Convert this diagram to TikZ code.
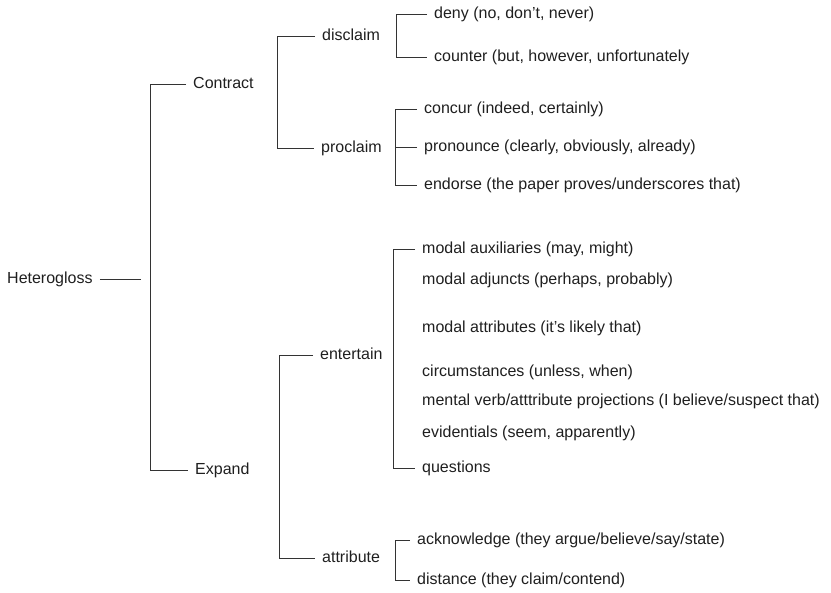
\documentclass[tikz,border=0pt]{standalone}
\usepackage{fontspec}
\setmainfont{Liberation Sans}

\begin{document}
\begin{tikzpicture}[x=1pt,y=-1pt,
  lbl/.style={anchor=west,inner sep=0pt,inner xsep=7pt,text height=11.7pt,text depth=3.3pt,
    text=black!88,font=\fontsize{16}{19}\selectfont},
  branch/.style={draw=black!80,line width=0.9pt}]
  \useasboundingbox (0,0) rectangle (831,593);

  \node at(0,279)[lbl](heterogloss){Heterogloss};
  \coordinate (hgend) at(141,279);

  \node at(186,84)[lbl](contract){Contract};
  \node at(188,470)[lbl](expand){Expand};

  \node at(315,36)[lbl](disclaim){disclaim};
  \node at(314,148)[lbl](proclaim){proclaim};
  \node at(313,355)[lbl](entertain){entertain};
  \node at(315,558)[lbl](attribute){attribute};

  \node at(427,14)[lbl](deny){deny (no, don't, never)};
  \node at(427,57)[lbl](counter){counter (but, however, unfortunately};

  \node at(417,109)[lbl](concur){concur (indeed, certainly)};
  \node at(417,147)[lbl](pronounce){pronounce (clearly, obviously, already)};
  \node at(417,185)[lbl](endorse){endorse (the paper proves/underscores that)};

  \node at(415,249)[lbl](modalaux){modal auxiliaries (may, might)};
  \node at(415,280)[lbl](modaladj){modal adjuncts (perhaps, probably)};
  \node at(415,328)[lbl](modalattr){modal attributes (it's likely that)};
  \node at(415,372)[lbl](circum){circumstances (unless, when)};
  \node at(415,401)[lbl](mental){mental verb/atttribute projections (I believe/suspect that)};
  \node at(415,433)[lbl](evident){evidentials (seem, apparently)};
  \node at(415,468)[lbl](questions){questions};

  \node at(410,540)[lbl](acknowledge){acknowledge (they argue/believe/say/state)};
  \node at(410,580)[lbl](distance){distance (they claim/contend)};

  \draw [branch](heterogloss.east) -- (hgend);
  \draw [branch](contract.west) -- ++(-36,0) |- (expand.west);

  \draw [branch](disclaim.west) -- ++(-38,0) |- (proclaim.west);
  \draw [branch](entertain.west) -- ++(-34,0) |- (attribute.west);

  \draw [branch](deny.west) -- ++(-31,0) |- (counter.west);

  \draw [branch](concur.west) -- ++(-22,0) |- (endorse.west);
  \draw [branch](pronounce.west) -- ++(-22,0);

  \draw [branch](modalaux.west) -- ++(-22,0) |- (questions.west);

  \draw [branch](acknowledge.west) -- ++(-15,0) |- (distance.west);
\end{tikzpicture}
\end{document}
